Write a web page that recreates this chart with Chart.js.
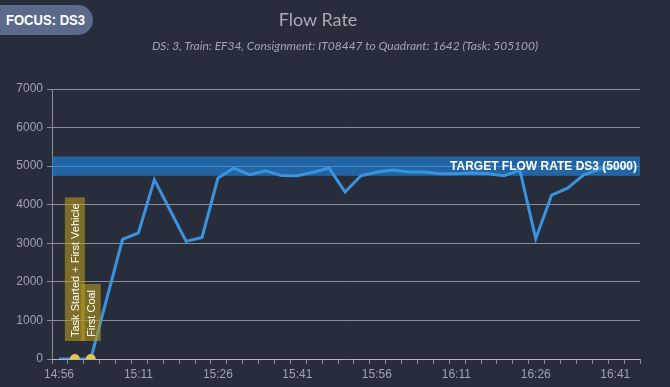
<!DOCTYPE html>
<html>
<head>
<meta charset="utf-8">
<script src="https://cdn.jsdelivr.net/npm/chart.js@4.4.0/dist/chart.umd.min.js"></script>
<style>
    html, body { margin: 0; padding: 0; background: #272d3b; }
    body { width: 670px; height: 387px; position: relative; overflow: hidden; }
    #flowChart { position: absolute; left: 0; top: 0; }
    .badge {
        position: absolute; left: 0; top: 5px; width: 93px; height: 30px;
        background: #5b6a8b; border-radius: 0 16px 16px 0;
    }
    .badge span {
        position: absolute; left: 6px; top: 6px; color: #fff;
        font: bold 15px "Liberation Sans", Arial, sans-serif;
        transform: scaleX(0.87); transform-origin: left center; white-space: nowrap;
    }
    .title {
        position: absolute; left: 318px; top: 8px; transform: translateX(-50%);
        color: #a9adb5; font: 18px Lato, sans-serif; white-space: nowrap;
    }
    .subtitle {
        position: absolute; left: 345px; top: 38px; transform: translateX(-50%);
        color: #a2a6ae; font: italic 12px Lato, sans-serif; white-space: nowrap;
    }
</style>
</head>
<body>
<canvas id="flowChart" width="670" height="387"></canvas>
<div class="badge"><span>FOCUS: DS3</span></div>
<div class="title">Flow Rate</div>
<div class="subtitle">DS: 3, Train: EF34, Consignment: IT08447 to Quadrant: 1642 (Task: 505100)</div>
<script>
// Flow rate samples, every 3 minutes
const times = ['14:56', '14:59', '15:02', '15:05', '15:08', '15:11', '15:14', '15:17', '15:20', '15:23',
    '15:26', '15:29', '15:32', '15:35', '15:38', '15:41', '15:44', '15:47', '15:50', '15:53',
    '15:56', '15:59', '16:02', '16:05', '16:08', '16:11', '16:14', '16:17', '16:20', '16:23',
    '16:26', '16:29', '16:32', '16:35', '16:38', '16:41', '16:44'];
const flowRate = [0, 0, 0, 1550, 3100, 3270, 4650, 3850, 3050, 3150,
    4690, 4950, 4780, 4880, 4760, 4750, 4840, 4950, 4330, 4750,
    4850, 4900, 4850, 4850, 4800, 4800, 4820, 4800, 4750, 4900,
    3120, 4250, 4430, 4770, 4920, 4980, 5000];

// x axis labels (one every 15 minutes) and y ticks
const xTickLabels = ['14:56', '15:11', '15:26', '15:41', '15:56', '16:11', '16:26', '16:41'];
const yTicks = [0, 1000, 2000, 3000, 4000, 5000, 6000, 7000];

// Events along the timeline
const eventTimes = ['14:59', '15:02'];
const eventLabels = ['Task Started + First Vehicle', 'First Coal'];

// Target band
const targetValue = 5000;
const targetBand = [4750, 5250];
const targetLabel = 'TARGET FLOW RATE DS3 (' + targetValue + ')';

function toMinutes(t) {
    const [h, m] = t.split(':').map(Number);
    return h * 60 + m;
}

const xMin = toMinutes('14:56') - 1.32;
const xMax = xMin + 111;

const overlay = {
    id: 'overlay',
    beforeDatasetsDraw(chart) {
        const { ctx, chartArea, scales } = chart;
        const y1 = scales.y.getPixelForValue(targetBand[1]);
        const y0 = scales.y.getPixelForValue(targetBand[0]);
        ctx.save();
        ctx.fillStyle = 'rgba(30, 136, 229, 0.62)';
        ctx.fillRect(chartArea.left, y1, chartArea.right - chartArea.left, y0 - y1);
        ctx.restore();
    },
    afterDatasetsDraw(chart) {
        const { ctx, chartArea, scales } = chart;
        ctx.save();
        // target label
        ctx.font = 'bold 12px "Liberation Sans", Arial, sans-serif';
        ctx.fillStyle = '#ffffff';
        ctx.textAlign = 'right';
        ctx.textBaseline = 'middle';
        ctx.fillText(targetLabel, chartArea.right - 3, scales.y.getPixelForValue(targetValue) + 1);

        // event boxes
        ctx.font = '11px "Liberation Sans", Arial, sans-serif';
        const bottom = chartArea.bottom - 18;
        eventTimes.forEach((t, i) => {
            const x = scales.x.getPixelForValue(toMinutes(t));
            const w = ctx.measureText(eventLabels[i]).width;
            const h = w + 10;
            ctx.fillStyle = 'rgba(182, 153, 30, 0.6)';
            ctx.fillRect(x - 10, bottom - h, 20, h);
            ctx.save();
            ctx.translate(x + 1, bottom - 4);
            ctx.rotate(-Math.PI / 2);
            ctx.fillStyle = '#ffffff';
            ctx.textAlign = 'left';
            ctx.textBaseline = 'middle';
            ctx.fillText(eventLabels[i], 0, 0);
            ctx.restore();
        });
        ctx.restore();
    }
};

const tickColor = '#9ea3ad';
const gridColor = 'rgba(205, 208, 214, 0.6)';

new Chart(document.getElementById('flowChart').getContext('2d'), {
    type: 'line',
    data: {
        datasets: [{
            label: 'Events',
            data: eventTimes.map(t => ({ x: toMinutes(t), y: 0 })),
            showLine: false,
            pointRadius: 5,
            pointBackgroundColor: '#e8c547',
            pointBorderWidth: 0,
            clip: 0
        }, {
            label: 'Flow Rate',
            data: times.map((t, i) => ({ x: toMinutes(t), y: flowRate[i] })),
            borderColor: '#3a93df',
            borderWidth: 3,
            pointRadius: 0,
            tension: 0,
            fill: false
        }]
    },
    options: {
        responsive: false,
        animation: false,
        layout: { padding: { top: 89, right: 30, left: 0, bottom: 0 } },
        plugins: { legend: { display: false }, tooltip: { enabled: false } },
        scales: {
            x: {
                type: 'linear',
                min: xMin,
                max: xMax,
                afterBuildTicks(scale) {
                    const ticks = [];
                    for (let v = xMin; v <= xMax + 0.01; v += 3) ticks.push({ value: v });
                    scale.ticks = ticks;
                },
                afterFit(scale) { scale.height = 28; },
                grid: { drawOnChartArea: false, drawTicks: true, tickLength: 5, color: gridColor },
                border: { display: true, color: gridColor },
                ticks: {
                    autoSkip: false,
                    maxRotation: 0,
                    labelOffset: 7,
                    padding: 3,
                    color: tickColor,
                    font: { family: '"Liberation Sans", Arial, sans-serif', size: 12 },
                    callback: (value, index) => index % 5 === 0 ? (xTickLabels[index / 5] || '') : ''
                }
            },
            y: {
                min: 0,
                max: 7000,
                afterBuildTicks(scale) { scale.ticks = yTicks.map(v => ({ value: v })); },
                afterFit(scale) { scale.width = 52; },
                grid: { color: gridColor, tickLength: 5 },
                border: { display: true, color: gridColor },
                ticks: {
                    padding: 4,
                    color: tickColor,
                    font: { family: '"Liberation Sans", Arial, sans-serif', size: 12 },
                    callback: value => String(value)
                }
            }
        }
    },
    plugins: [overlay]
});
</script>
</body>
</html>
